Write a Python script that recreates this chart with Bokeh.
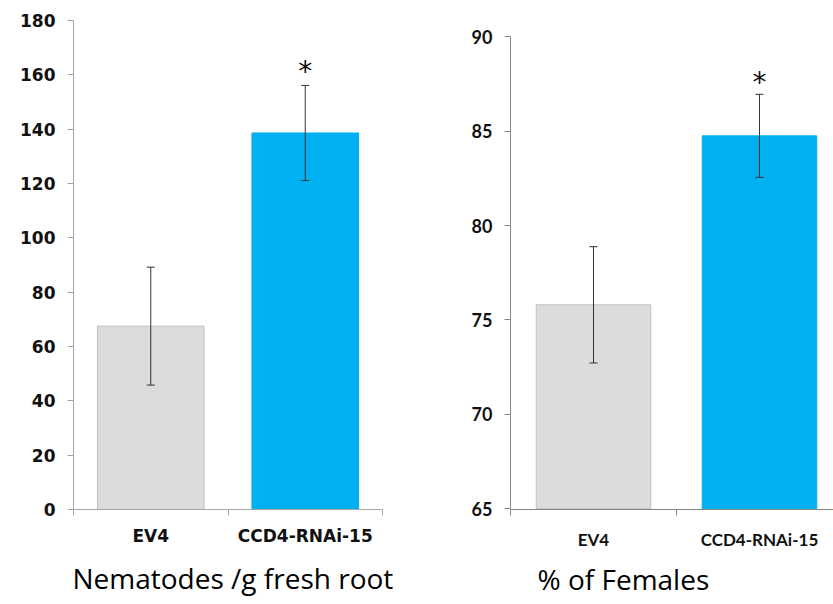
from bokeh.plotting import figure
from bokeh.layouts import row
from bokeh.models import (Range1d, FixedTicker, SingleIntervalTicker, ColumnDataSource,
                          Whisker, TeeHead, Title)
from bokeh.core.properties import value
from bokeh.embed import file_html
from bokeh.resources import INLINE

categories = ["EV4", "CCD4-RNAi-15"]
bar_colors = ["#DCDCDC", "#00B0F0"]
bar_lines = ["#BFBFBF", "#00B0F0"]
significant = [False, True]

nematodes_mean = [67.5, 138.6]
nematodes_err = [21.7, 17.5]
nematodes_ticks = (0, 180, 20)
nematodes_title = "Nematodes /g fresh root"

females_mean = [75.8, 84.75]
females_err = [3.08, 2.2]
females_ticks = (65, 90, 5)
females_title = "% of Females"


def make_panel(means, errs, ticks, y_view, title, width, height, borders, x_end,
               tick_font, tick_size, cat_font, cat_size, cat_standoff,
               title_size, title_offset, title_standoff, star_offset, axis_color):
    n = len(categories)
    xs = [i + 0.5 for i in range(n)]
    lows = [m - e for m, e in zip(means, errs)]
    highs = [m + e for m, e in zip(means, errs)]
    src = ColumnDataSource(dict(x=xs, top=means, low=lows, high=highs,
                                color=bar_colors, line=bar_lines,
                                star=["*" if s else "" for s in significant]))
    lo, hi, step = ticks
    p = figure(width=width, height=height, output_backend="svg", toolbar_location=None,
               x_range=Range1d(0, x_end), y_range=Range1d(*y_view),
               min_border_left=borders[0], min_border_right=borders[1],
               min_border_top=borders[2], min_border_bottom=borders[3])
    p.outline_line_color = None
    p.xgrid.visible = False
    p.ygrid.visible = False
    p.background_fill_color = "white"
    p.border_fill_color = "white"

    p.vbar(x="x", top="top", bottom=lo, width=0.69, fill_color="color",
           line_color="line", line_width=1, source=src)
    w = Whisker(base="x", lower="low", upper="high", source=src, level="overlay",
                line_color="#333333", line_width=1,
                upper_head=TeeHead(size=8, line_color="#333333", line_width=1),
                lower_head=TeeHead(size=8, line_color="#333333", line_width=1))
    p.add_layout(w)
    p.text(x="x", y="high", text="star", source=src, text_align="center",
           text_baseline="alphabetic", y_offset=star_offset, text_font=value("DejaVu Sans"),
           text_font_size="28px", text_color="#111111")

    ya = p.yaxis[0]
    ya.ticker = SingleIntervalTicker(interval=step, num_minor_ticks=0)
    ya.bounds = (lo, hi)
    ya.axis_line_color = axis_color
    ya.major_tick_line_color = axis_color
    ya.major_tick_out = 6
    ya.major_tick_in = 0
    ya.minor_tick_line_color = None
    ya.major_label_text_font = tick_font
    ya.major_label_text_font_style = "bold"
    ya.major_label_text_font_size = tick_size
    ya.major_label_text_color = "#111111"
    ya.major_label_standoff = 12

    xa = p.xaxis[0]
    xa.ticker = FixedTicker(ticks=xs, minor_ticks=list(range(n + 1)))
    xa.major_label_overrides = {x: c for x, c in zip(xs, categories)}
    xa.bounds = (0, n)
    xa.axis_line_color = axis_color
    xa.major_tick_line_color = None
    xa.major_tick_out = 0
    xa.major_tick_in = 0
    xa.minor_tick_line_color = axis_color
    xa.minor_tick_out = 6
    xa.minor_tick_in = 0
    xa.major_label_text_font = cat_font
    xa.major_label_text_font_style = "bold"
    xa.major_label_text_font_size = cat_size
    xa.major_label_text_color = "#111111"
    xa.major_label_standoff = cat_standoff

    t = Title(text=title, align="left", offset=title_offset, standoff=title_standoff,
              text_font="Open Sans", text_font_style="normal",
              text_font_size=title_size, text_color="#000000")
    p.add_layout(t, "below")
    return p


p1 = make_panel(nematodes_mean, nematodes_err, nematodes_ticks, (0, 180), nematodes_title,
                420, 604, (73, 38, 20, 94), 2, "DejaVu Sans", "17px",
                "DejaVu Sans", "17px", 10, "28px", -1, 16, -14, "#A6A6A6")
p2 = make_panel(females_mean, females_err, females_ticks, (64.96, 90.86), females_title,
                413, 604, (90, 0, 20, 94), 1.946, "Lato", "18px",
                "Lato", "17px", 13, "28px", 27, 10, -12, "#868686")

layout = row(p1, p2)
open("out.html", "w").write(file_html(layout, INLINE))
